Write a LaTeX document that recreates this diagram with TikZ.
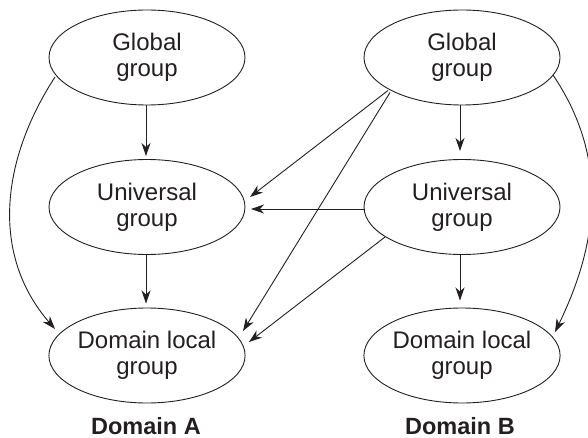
\documentclass[tikz,border=0pt]{standalone}
\usepackage{fontspec}
\setmainfont{Liberation Sans}
\usetikzlibrary{shapes.geometric,arrows.meta,calc}
\definecolor{ink}{HTML}{231F20}
\begin{document}
\begin{tikzpicture}[x=1pt,y=-1pt,
  grp/.style={draw=ink,line width=0.9pt,ellipse,minimum width=196pt,minimum height=95pt,inner sep=0pt,
    align=center,font=\fontsize{24}{26}\selectfont,text=ink},
  lbl/.style={font=\fontsize{23.5}{26}\selectfont\bfseries,text=ink},
  arr/.style={draw=ink,line width=0.9pt,-{Stealth[length=13pt,width=9pt,inset=4pt]}}]
\useasboundingbox (0,0) rectangle (588,438);
\node[grp] (GA) at (147,57.5) {Global\\group};
\node[grp] (UA) at (147,207) {Universal\\group};
\node[grp] (DA) at (147,355.5) {Domain local\\group};
\node[grp] (GB) at (462,57.5) {Global\\group};
\node[grp] (UB) at (462,207) {Universal\\group};
\node[grp] (DB) at (462,355.5) {Domain local\\group};
\node[lbl] (LA) at (146,426) {Domain A};
\node[lbl] (LB) at (460,426) {Domain B};
% vertical arrows
\draw[arr] ($(GA)+(-1,48)$) -- ($(UA)+(-1,-51)$);
\draw[arr] ($(UA)+(-1,48)$) -- ($(DA)+(-1,-52)$);
\draw[arr] ($(GB)+(-2,48)$) -- ($(UB)+(-2,-56)$);
\draw[arr] ($(UB)+(-2,48)$) -- ($(DB)+(-2,-55)$);
% horizontal
\draw[arr] ($(UB)+(-97,2)$) -- ($(UA)+(104,2)$);
% diagonals
\draw[arr] ($(GB)+(-74,33)$) -- ($(UA)+(103,-10)$);
\draw[arr] ($(GB)+(-72,35)$) -- ($(DA)+(96,-24.5)$);
\draw[arr] ($(UB)+(-77,30)$) -- ($(DA)+(102,-13.5)$);
% curves
\draw[arr] ($(GA)+(-92,19.5)$) .. controls +(-53.8,82.8) and +(-64.8,-74.5) .. ($(DA)+(-92,-26.5)$);
\draw[arr] ($(GB)+(91,17.5)$) .. controls +(55.9,82.9) and +(43.8,-89.9) .. ($(DB)+(93,-23.5)$);
\end{tikzpicture}
\end{document}
